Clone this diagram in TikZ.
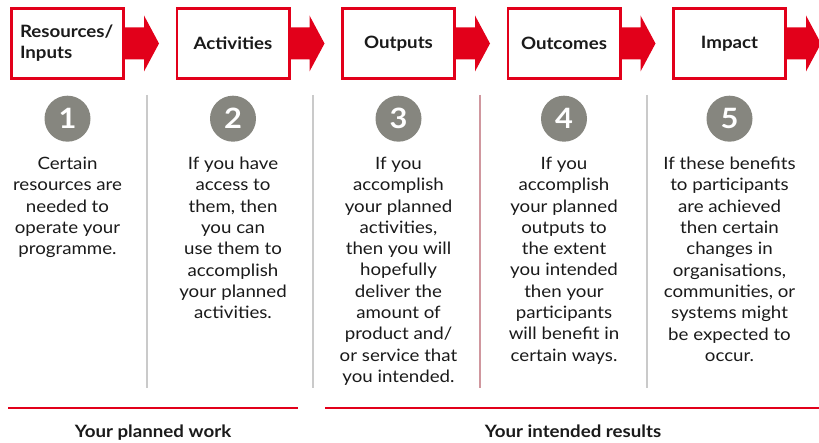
\documentclass[tikz,border=0pt]{standalone}
\usepackage{fontspec}
\setmainfont{Lato}[FakeStretch=1.1]
\usepackage{xcolor}
\usetikzlibrary{positioning,calc}

\definecolor{lmred}{HTML}{E2001A}
\definecolor{lmgrey}{HTML}{86867F}
\definecolor{lmrule}{HTML}{CACACA}
\definecolor{lmtext}{HTML}{1A1A1A}

\tikzset{
    stage/.style={draw=lmred, line width=2.6pt, fill=white, minimum width=112.4pt, minimum height=70.4pt,
        inner sep=0pt, text=lmtext, font=\bfseries\fontsize{17}{21}\selectfont},
    stagearrow/.style={fill=lmred},
    num/.style={circle, fill=lmgrey, minimum size=46pt, inner sep=0pt, text=white,
        font=\bfseries\fontsize{28}{28}\selectfont},
    desc/.style={align=center, inner sep=0pt, text=lmtext, font=\fontsize{17}{21.3}\selectfont},
    sep/.style={draw=lmrule, line width=1.6pt},
    band/.style={draw=lmred, line width=2pt},
    bandlabel/.style={anchor=base, text=lmtext, font=\bfseries\fontsize{17}{20}\selectfont},
}

\begin{document}
\begin{tikzpicture}[x=1pt, y=-1pt, node distance=50.5pt]
    \useasboundingbox[fill=white] (0,0) rectangle (819,443);

    % Stages
    \node[stage, text width=95pt, align=left] (s1) at (67.5,43.5) {Resources/\\Inputs};
    \node[stage, right=of s1] (s2) {Activities};
    \node[stage, right=of s2] (s3) {Outputs};
    \node[stage, right=of s3] (s4) {Outcomes};
    \node[stage, right=of s4] (s5) {Impact};

    \foreach \i in {1,...,5}
        \fill[stagearrow] (s\i.east) ++(0,-16) -- ++(19,0) -- ++(0,-12) -- ++(15,28)
            -- ++(-15,28) -- ++(0,-12) -- ++(-19,0) -- cycle;

    % Numbers
    \foreach \i in {1,...,5}
        \node[num, below=15.5pt of s\i] (c\i) {\i};

    % Column texts
    \node[desc, below=15pt of c1] (t1) {Certain\\resources are\\needed to\\operate your\\programme.};
    \node[desc, below=15pt of c2] (t2) {If you have\\access to\\them, then\\you can\\use them to\\accomplish\\your planned\\activities.};
    \node[desc, below=15pt of c3] (t3) {If you\\accomplish\\your planned\\activities,\\then you will\\hopefully\\deliver the\\amount of\\product and/\\or service that\\you intended.};
    \node[desc, below=15pt of c4] (t4) {If you\\accomplish\\your planned\\outputs to\\the extent\\you intended\\then your\\participants\\will benefit in\\certain ways.};
    \node[desc, below=15pt of c5] (t5) {If these benefits\\to participants\\are achieved\\then certain\\changes in\\organisations,\\communities, or\\systems might\\be expected to\\occur.};

    % Separators
    \draw[sep] (147,95) -- (147,388);
    \draw[sep] (313,95) -- (313,388);
    \draw[sep, draw=lmred!25!lmrule] (480,95) -- (480,388);
    \draw[sep] (647,95) -- (647,388);

    % Bands
    \draw[band] (8,408) -- (298,408);
    \draw[band] (325,408) -- (819,408);
    \node[bandlabel] (work) at (153,437) {Your planned work};
    \node[bandlabel] (results) at (573,437) {Your intended results};
\end{tikzpicture}
\end{document}
